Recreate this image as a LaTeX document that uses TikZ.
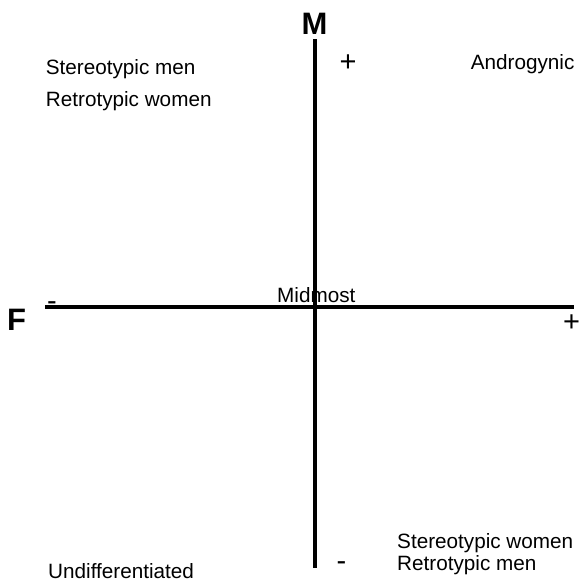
\documentclass[tikz,border=0pt]{standalone}
\usepackage{fontspec}
\setmainfont{Liberation Sans}

\begin{document}
\begin{tikzpicture}[
    x=1pt, y=-1pt,
    axisline/.style={line width=4.3pt, draw=black},
    quadtext/.style={font=\fontsize{20.7}{24}\selectfont, anchor=base west, inner sep=0pt},
    poletext/.style={font=\fontsize{31}{36}\selectfont\bfseries, inner sep=0pt},
    signtext/.style={font=\fontsize{29}{33}\selectfont, anchor=base, inner sep=0pt}
]
\useasboundingbox (0,0) rectangle (579,582);
% axes
\coordinate (mtop) at (314.7,39);
\coordinate (mbot) at (314.7,567.7);
\coordinate (fleft) at (45,306.8);
\coordinate (fright) at (574,306.8);
\draw[axisline] (mtop) -- (mbot);
\draw[axisline] (fleft) -- (fright);
% poles and signs
\node[poletext] (mlabel) at (314.5,24) {M};
\node[poletext] (flabel) at (16.5,319.5) {F};
\node[signtext] (mplus) at (348,71.8) {+};
\node[signtext] (mminus) at (341.5,570.8) {-};
\node[signtext] (fminus) at (52,310.8) {-};
\node[signtext] (fplus) at (571.5,331.8) {+};
% quadrants
\node[quadtext] (stmen) at (45.7,74.5) {Stereotypic men};
\node[quadtext] (rtwomen) at (45.7,106.7) {Retrotypic women};
\node[quadtext] (andro) at (470.7,69.3) {Androgynic};
\node[quadtext] (midmost) at (277,302) {Midmost};
\node[quadtext] (stwomen) at (397,548.3) {Stereotypic women};
\node[quadtext] (rtmen) at (397,570) {Retrotypic men};
\node[quadtext] (undiff) at (48,578) {Undifferentiated};
\end{tikzpicture}
\end{document}
